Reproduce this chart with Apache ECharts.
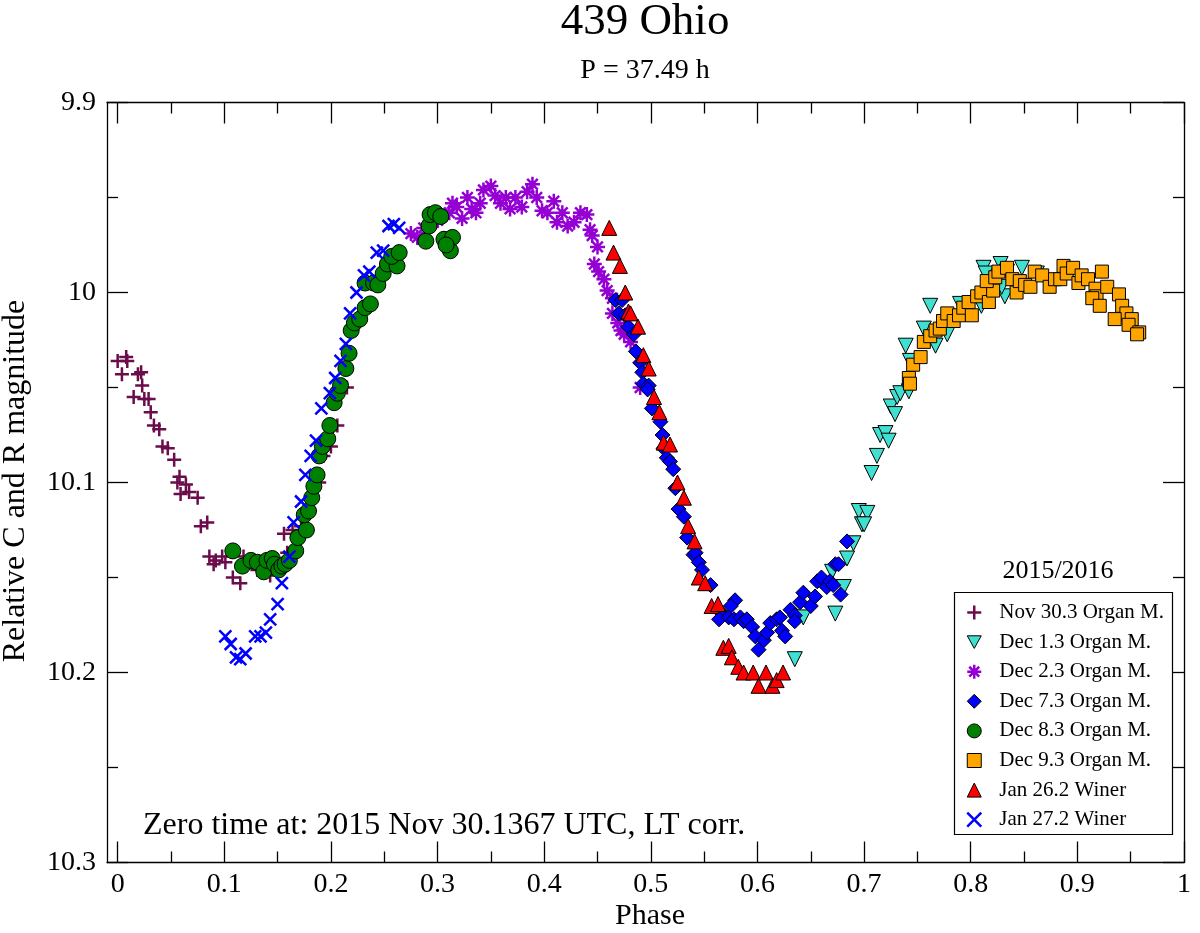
<!DOCTYPE html>
<html>
<head>
<meta charset="utf-8">
<script src="https://cdn.jsdelivr.net/npm/echarts@6/dist/echarts.min.js"></script>
<style>
  html, body { margin: 0; padding: 0; background: #fff; }
  #chart { width: 1200px; height: 933px; }
</style>
</head>
<body>
<div id="chart"></div>
<script>
// phase / relative magnitude pairs
var nov30 = [
  [0.000, 10.036], [0.008, 10.034], [0.009, 10.036], [0.004, 10.043], [0.019, 10.043],
  [0.022, 10.042], [0.023, 10.049], [0.015, 10.055], [0.025, 10.056], [0.029, 10.056],
  [0.031, 10.063], [0.034, 10.070], [0.039, 10.072], [0.042, 10.081], [0.047, 10.082],
  [0.053, 10.088], [0.058, 10.097], [0.056, 10.100], [0.064, 10.101], [0.059, 10.106],
  [0.067, 10.105], [0.075, 10.108], [0.078, 10.123], [0.084, 10.121], [0.086, 10.139],
  [0.092, 10.141], [0.090, 10.143], [0.098, 10.139], [0.101, 10.142], [0.108, 10.150],
  [0.115, 10.153], [0.118, 10.139], [0.131, 10.146], [0.143, 10.149], [0.159, 10.137],
  [0.156, 10.127], [0.164, 10.125], [0.172, 10.123], [0.189, 10.100], [0.193, 10.086],
  [0.200, 10.081], [0.206, 10.070], [0.215, 10.050]
];
var dec1 = [
  [0.698, 10.122], [0.690, 10.132], [0.684, 10.140], [0.670, 10.147], [0.681, 10.155],
  [0.643, 10.171], [0.673, 10.169], [0.635, 10.193], [0.695, 10.115], [0.703, 10.116],
  [0.700, 10.122], [0.707, 10.095], [0.712, 10.086], [0.715, 10.075], [0.720, 10.074],
  [0.723, 10.078], [0.725, 10.060], [0.729, 10.064], [0.731, 10.055], [0.734, 10.053],
  [0.742, 10.052], [0.739, 10.028], [0.743, 10.036], [0.756, 10.019], [0.762, 10.007],
  [0.767, 10.028], [0.778, 10.022], [0.790, 10.006], [0.810, 10.007], [0.812, 9.987],
  [0.814, 9.990], [0.828, 9.985], [0.834, 9.989], [0.848, 9.987], [0.832, 10.002],
  [0.829, 9.997], [0.840, 9.995], [0.862, 9.990]
];
var dec2 = [
  [0.275, 9.969], [0.281, 9.971], [0.287, 9.966], [0.296, 9.963], [0.300, 9.962],
  [0.304, 9.960], [0.311, 9.958], [0.314, 9.953], [0.318, 9.955], [0.323, 9.961],
  [0.328, 9.950], [0.332, 9.956], [0.336, 9.958], [0.340, 9.953], [0.343, 9.946],
  [0.350, 9.944], [0.354, 9.949], [0.359, 9.953], [0.364, 9.950], [0.368, 9.956],
  [0.373, 9.950], [0.379, 9.955], [0.384, 9.947], [0.389, 9.943], [0.393, 9.950],
  [0.398, 9.957], [0.403, 9.958], [0.409, 9.952], [0.412, 9.963], [0.417, 9.958],
  [0.422, 9.965], [0.428, 9.963], [0.434, 9.958], [0.440, 9.959], [0.443, 9.967],
  [0.445, 9.970], [0.450, 9.976], [0.447, 9.985], [0.451, 9.989], [0.456, 9.993],
  [0.459, 9.999], [0.464, 10.003], [0.464, 10.011], [0.469, 10.016], [0.472, 10.020],
  [0.475, 10.022], [0.481, 10.026], [0.490, 10.050]
];
var dec7 = [
  [0.467, 10.004], [0.473, 10.004], [0.470, 10.011], [0.476, 10.012], [0.479, 10.018],
  [0.484, 10.022], [0.486, 10.031], [0.490, 10.037], [0.492, 10.042], [0.493, 10.048],
  [0.498, 10.049], [0.497, 10.051], [0.501, 10.061], [0.509, 10.068], [0.511, 10.075],
  [0.512, 10.082], [0.515, 10.087], [0.518, 10.089], [0.521, 10.093], [0.523, 10.103],
  [0.526, 10.114], [0.531, 10.118], [0.534, 10.129], [0.540, 10.138], [0.542, 10.137],
  [0.545, 10.142], [0.548, 10.146], [0.556, 10.154], [0.579, 10.162], [0.575, 10.165],
  [0.565, 10.168], [0.564, 10.172], [0.573, 10.171], [0.578, 10.172], [0.584, 10.171],
  [0.587, 10.173], [0.590, 10.172], [0.595, 10.176], [0.598, 10.181], [0.606, 10.183],
  [0.601, 10.188], [0.609, 10.179], [0.612, 10.174], [0.618, 10.172], [0.621, 10.171],
  [0.623, 10.178], [0.626, 10.181], [0.631, 10.167], [0.635, 10.170], [0.635, 10.173],
  [0.640, 10.163], [0.643, 10.158], [0.650, 10.165], [0.654, 10.160], [0.656, 10.152],
  [0.660, 10.150], [0.665, 10.155], [0.668, 10.152], [0.671, 10.154], [0.678, 10.159],
  [0.673, 10.143], [0.676, 10.143], [0.684, 10.131]
];
var dec8 = [
  [0.108, 10.136], [0.117, 10.144], [0.125, 10.141], [0.131, 10.142], [0.137, 10.147],
  [0.140, 10.141], [0.145, 10.140], [0.147, 10.143], [0.151, 10.146], [0.154, 10.144],
  [0.157, 10.143], [0.161, 10.141], [0.167, 10.136], [0.169, 10.129], [0.177, 10.125],
  [0.175, 10.117], [0.179, 10.115], [0.182, 10.108], [0.184, 10.102], [0.187, 10.096],
  [0.189, 10.086], [0.192, 10.081], [0.197, 10.077], [0.199, 10.070], [0.203, 10.058],
  [0.206, 10.053], [0.209, 10.049], [0.214, 10.040], [0.217, 10.032], [0.219, 10.020],
  [0.222, 10.016], [0.227, 10.014], [0.232, 10.008], [0.237, 10.006], [0.232, 9.995],
  [0.240, 9.995], [0.244, 9.996], [0.249, 9.990], [0.253, 9.985], [0.262, 9.986],
  [0.257, 9.981], [0.264, 9.979], [0.289, 9.973], [0.292, 9.965], [0.293, 9.959],
  [0.298, 9.958], [0.303, 9.960], [0.306, 9.972], [0.314, 9.971], [0.312, 9.978],
  [0.308, 9.975]
];
var dec9 = [
  [0.742, 10.045], [0.743, 10.048], [0.746, 10.038], [0.753, 10.034], [0.756, 10.026],
  [0.762, 10.023], [0.767, 10.020], [0.771, 10.019], [0.774, 10.015], [0.778, 10.011],
  [0.784, 10.015], [0.789, 10.012], [0.793, 10.008], [0.798, 10.005], [0.801, 10.012],
  [0.806, 10.002], [0.810, 10.000], [0.817, 10.005], [0.821, 9.999], [0.815, 9.994],
  [0.823, 9.992], [0.826, 9.989], [0.834, 9.987], [0.839, 9.993], [0.843, 10.000],
  [0.846, 9.994], [0.851, 9.996], [0.856, 9.997], [0.860, 9.989], [0.867, 9.991],
  [0.874, 9.997], [0.879, 9.993], [0.884, 9.993], [0.887, 9.986], [0.890, 9.990],
  [0.896, 9.987], [0.901, 9.995], [0.904, 9.991], [0.910, 9.993], [0.923, 9.989],
  [0.917, 9.998], [0.918, 10.002], [0.914, 10.003], [0.921, 10.007], [0.928, 9.997],
  [0.939, 10.001], [0.942, 10.007], [0.946, 10.011], [0.935, 10.014], [0.951, 10.014],
  [0.948, 10.017], [0.958, 10.021], [0.956, 10.022]
];
var jan26 = [
  [0.461, 9.966], [0.465, 9.979], [0.471, 9.986], [0.476, 10.000], [0.479, 10.010],
  [0.481, 10.011], [0.488, 10.018], [0.493, 10.033], [0.498, 10.040], [0.503, 10.055],
  [0.508, 10.063], [0.512, 10.079], [0.518, 10.080], [0.525, 10.100], [0.531, 10.108],
  [0.535, 10.123], [0.541, 10.131], [0.545, 10.150], [0.551, 10.153], [0.557, 10.165],
  [0.563, 10.164], [0.568, 10.187], [0.573, 10.186], [0.576, 10.192], [0.582, 10.197],
  [0.587, 10.200], [0.596, 10.200], [0.601, 10.207], [0.608, 10.200], [0.614, 10.207],
  [0.618, 10.204], [0.624, 10.200]
];
var jan27 = [
  [0.101, 10.181], [0.106, 10.185], [0.111, 10.192], [0.115, 10.193], [0.120, 10.190],
  [0.129, 10.181], [0.134, 10.181], [0.139, 10.179], [0.143, 10.172], [0.150, 10.164],
  [0.154, 10.153], [0.161, 10.139], [0.165, 10.121], [0.172, 10.110], [0.176, 10.096],
  [0.181, 10.086], [0.186, 10.078], [0.191, 10.061], [0.199, 10.053], [0.204, 10.045],
  [0.209, 10.036], [0.214, 10.027], [0.218, 10.011], [0.224, 10.000], [0.231, 9.991],
  [0.236, 9.989], [0.243, 9.979], [0.249, 9.978], [0.254, 9.965], [0.259, 9.964],
  [0.264, 9.966]
];

var seriesNames = [
  'Nov 30.3 Organ M.', 'Dec 1.3 Organ M.', 'Dec 2.3 Organ M.', 'Dec 7.3 Organ M.',
  'Dec 8.3 Organ M.', 'Dec 9.3 Organ M.', 'Jan 26.2 Winer', 'Jan 27.2 Winer'
];
var xMajor = [0, 0.1, 0.2, 0.3, 0.4, 0.5, 0.6, 0.7, 0.8, 0.9, 1];
var xMinor = [0.05, 0.15, 0.25, 0.35, 0.45, 0.55, 0.65, 0.75, 0.85, 0.95];

var FONT = 'Liberation Serif';
var plusPath = 'path://M5,0L5,10M0,5L10,5';
var crossPath = 'path://M0,0L10,10M10,0L0,10';
var starPath = 'path://M5,0L5,10M0,5L10,5M1.46,1.46L8.54,8.54M8.54,1.46L1.46,8.54';
var downTriPath = 'path://M0,0L10,0L5,9Z';

var chart = echarts.init(document.getElementById('chart'));

function lineMarker(name, data, path, color, size, width) {
  return {
    name: name, type: 'scatter', data: data,
    symbol: path, symbolSize: size,
    itemStyle: { color: color, borderColor: color, borderWidth: width, opacity: 1 }
  };
}
function filledMarker(name, data, symbol, color, size, rotate) {
  return {
    name: name, type: 'scatter', data: data,
    symbol: symbol, symbolSize: size, symbolRotate: rotate || 0,
    itemStyle: { color: color, borderColor: '#000', borderWidth: 1, opacity: 1 }
  };
}

function xAxisDef(pos, values, len, withLine, withLabel) {
  return {
    type: 'value', position: pos, min: -0.01, max: 1,
    axisLine: { show: withLine, onZero: false, lineStyle: { color: '#000', width: 1.3 } },
    axisTick: { show: true, inside: true, length: len, customValues: values,
      lineStyle: { color: '#000', width: 1.3 } },
    axisLabel: { show: withLabel, customValues: values, margin: 8, color: '#000',
      fontFamily: FONT, fontSize: 28,
      formatter: function (v) { return (v === 0 || v === 1) ? String(v) : v.toFixed(1); } },
    splitLine: { show: false }
  };
}
function yAxisDef(pos, withLabel) {
  return {
    type: 'value', position: pos, min: 9.9, max: 10.3, interval: 0.1, inverse: true,
    axisLine: { show: true, onZero: false, lineStyle: { color: '#000', width: 1.3 } },
    axisTick: { show: true, inside: true, length: 21, lineStyle: { color: '#000', width: 1.3 } },
    minorTick: { show: true, splitNumber: 2, length: 11, lineStyle: { color: '#000', width: 1.3 } },
    axisLabel: { show: withLabel, margin: 11, color: '#000', fontFamily: FONT, fontSize: 28 },
    splitLine: { show: false },
    minorSplitLine: { show: false }
  };
}

var option = {
  animation: false,
  backgroundColor: '#fff',
  grid: { left: 107, right: 16, top: 102.5, bottom: 70.5, outerBoundsMode: 'none' },
  xAxis: [
    xAxisDef('bottom', xMajor, 21, true, true),
    xAxisDef('bottom', xMinor, 11, false, false),
    xAxisDef('top', xMajor, 21, true, false),
    xAxisDef('top', xMinor, 11, false, false)
  ],
  yAxis: [yAxisDef('left', true), yAxisDef('right', false)],
  legend: {
    orient: 'vertical', left: 954, top: 592,
    padding: [10, 9, 4, 12],
    itemWidth: 14, itemHeight: 14, itemGap: 8.6,
    selectedMode: false,
    textStyle: { fontFamily: FONT, fontSize: 21, color: '#000', lineHeight: 21,
      padding: [0, 0, 0, 13] },
    data: seriesNames.map(function (n, i) {
      var d = { name: n };
      if (i === 0 || i === 2 || i === 7) d.itemStyle = { borderWidth: 2.5 };
      else d.itemStyle = { borderWidth: 1 };
      if (i === 1) d.icon = downTriPath;
      return d;
    })
  },
  graphic: [
    { type: 'rect', shape: { x: 954.5, y: 592.5, width: 218, height: 242 },
      style: { fill: '#fff', stroke: '#000', lineWidth: 1.2 }, z: 3 },
    { type: 'text', x: 645, y: 22, style: { text: '439 Ohio', fontFamily: FONT, fontSize: 45,
      fill: '#000', align: 'center', verticalAlign: 'middle' } },
    { type: 'text', x: 645, y: 71, style: { text: 'P = 37.49 h', fontFamily: FONT, fontSize: 28,
      fill: '#000', align: 'center', verticalAlign: 'middle' } },
    { type: 'text', x: 650, y: 916, style: { text: 'Phase', fontFamily: FONT, fontSize: 30,
      fill: '#000', align: 'center', verticalAlign: 'middle' } },
    { type: 'text', x: 16, y: 481, rotation: Math.PI / 2, style: { text: 'Relative C and R magnitude',
      fontFamily: FONT, fontSize: 32, fill: '#000', align: 'center', verticalAlign: 'middle' } },
    { type: 'text', x: 143, y: 826, style: { text: 'Zero time at: 2015 Nov 30.1367 UTC, LT corr.',
      fontFamily: FONT, fontSize: 32, fill: '#000', align: 'left', verticalAlign: 'middle' } },
    { type: 'text', x: 1058, y: 571, style: { text: '2015/2016', fontFamily: FONT, fontSize: 26,
      fill: '#000', align: 'center', verticalAlign: 'middle' } }
  ],
  series: [
    lineMarker(seriesNames[0], nov30, plusPath, '#6b0d4b', 14, 2.5),
    filledMarker(seriesNames[1], dec1, 'triangle', '#40e0d0', 15, 180),
    lineMarker(seriesNames[2], dec2, starPath, '#9400d3', 15, 2.5),
    filledMarker(seriesNames[3], dec7, 'diamond', '#0000ff', 15),
    filledMarker(seriesNames[4], dec8, 'circle', '#008000', 16),
    filledMarker(seriesNames[5], dec9, 'rect', '#ffa500', 13),
    filledMarker(seriesNames[6], jan26, 'triangle', '#ff0000', 15),
    lineMarker(seriesNames[7], jan27, crossPath, '#0000ff', 12, 2.5)
  ]
};

chart.setOption(option);
</script>
</body>
</html>
